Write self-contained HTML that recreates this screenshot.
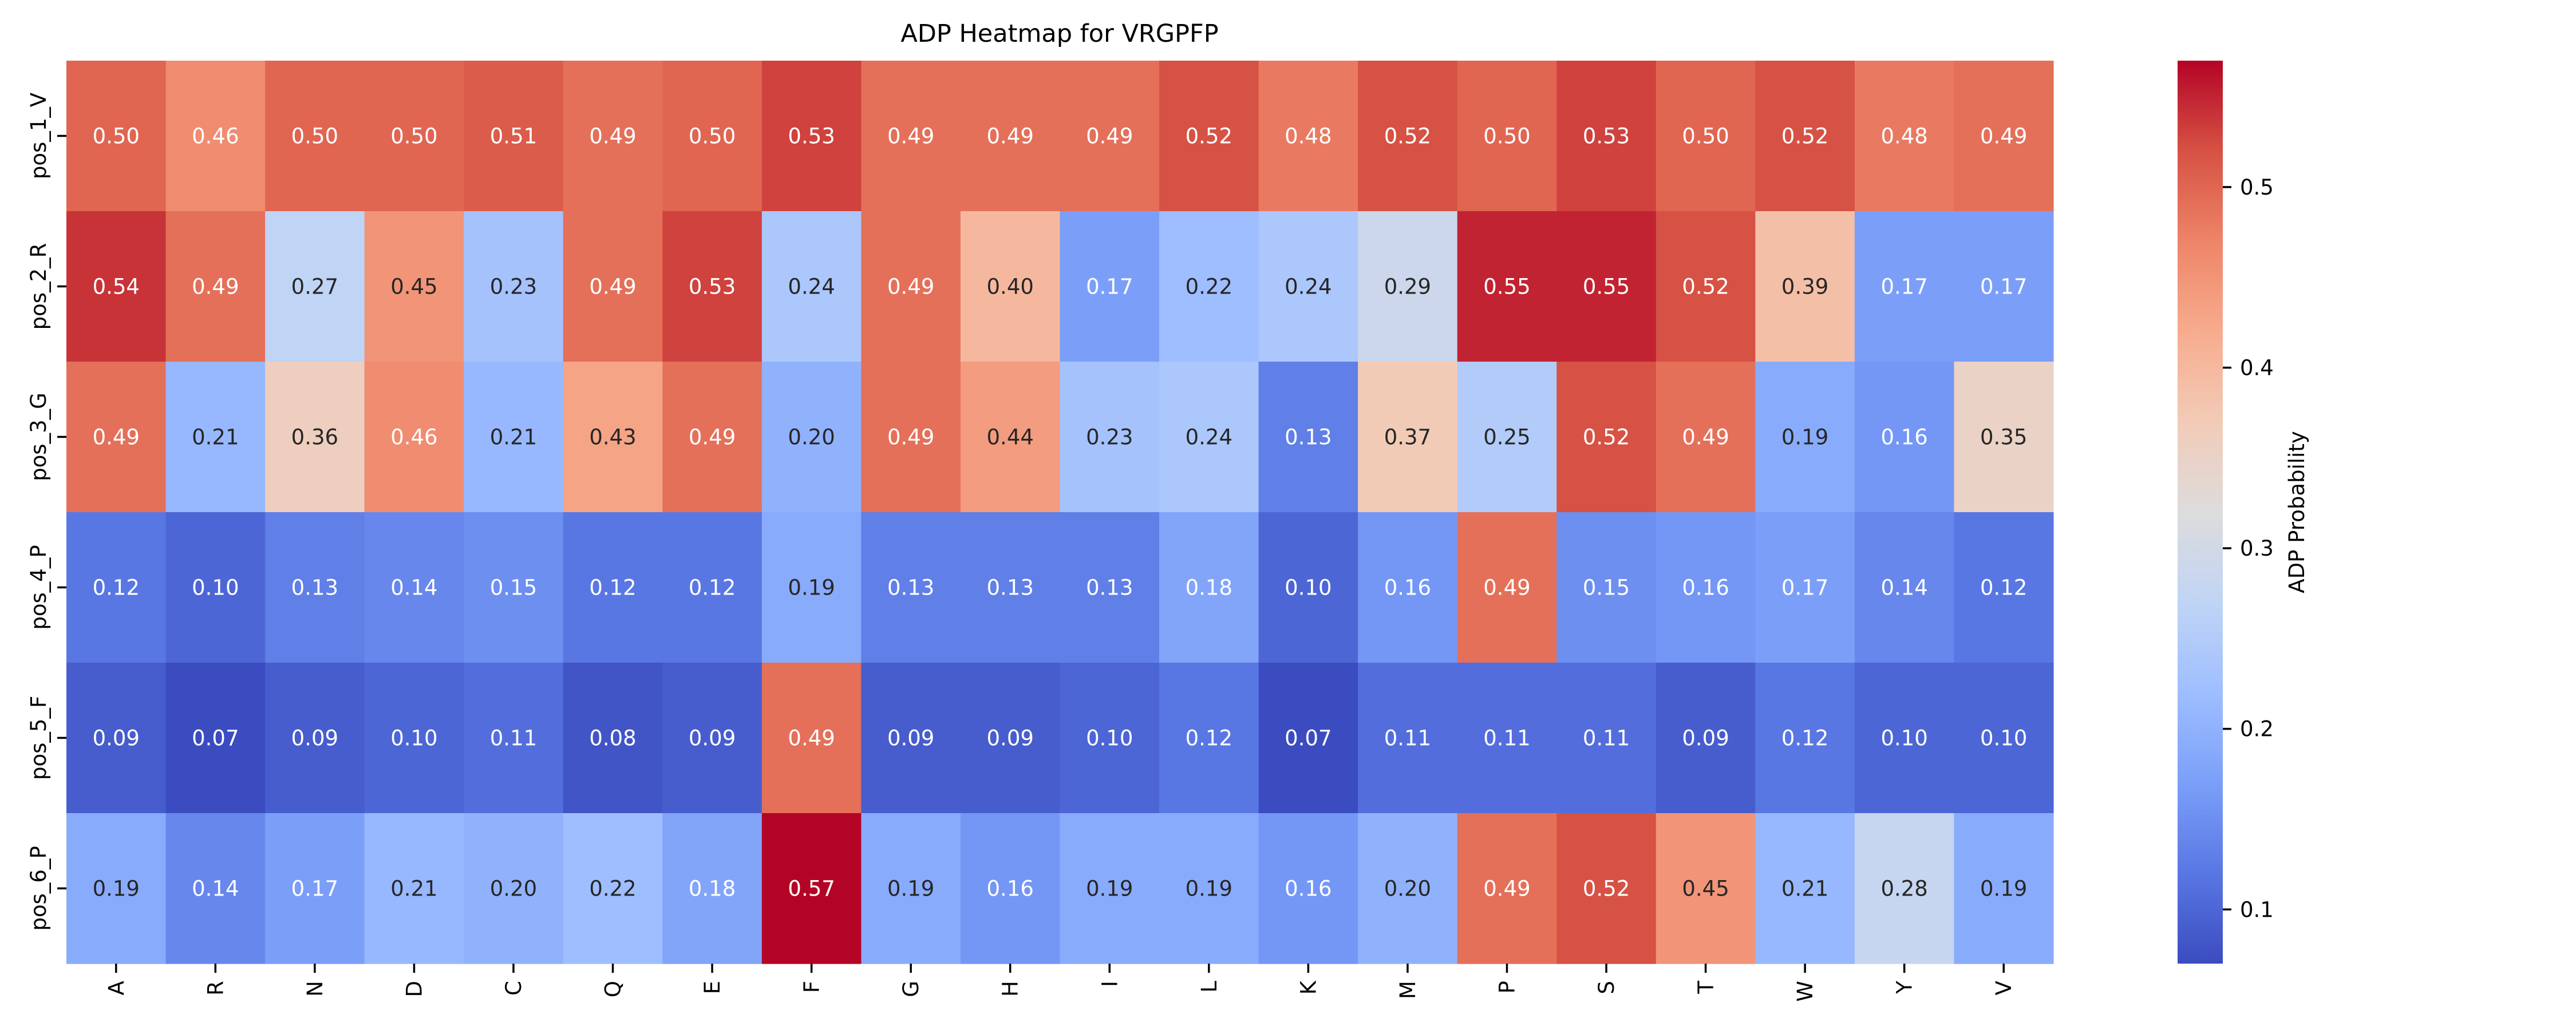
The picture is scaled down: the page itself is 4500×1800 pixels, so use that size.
<!DOCTYPE html>
<html><head><meta charset="utf-8"><style>
html,body{margin:0;padding:0;background:#fff;}
svg{display:block;font-family:"DejaVu Sans","Liberation Sans",sans-serif;}
</style></head><body>
<svg id="chart" width="4500" height="1800" viewBox="0 0 4500 1800" xmlns="http://www.w3.org/2000/svg">
<defs><linearGradient id="cbgrad" x1="0" y1="1" x2="0" y2="0"></linearGradient></defs>
<text x="1851" y="73" font-size="43" text-anchor="middle" fill="#000">ADP Heatmap for VRGPFP</text>
<g id="cells"></g><g id="xaxis"></g><g id="yaxis"></g><g id="cbar"></g>
<text transform="translate(4025,895) rotate(-90)" font-size="37" text-anchor="middle" fill="#000">ADP Probability</text>
</svg>
<script>
const columns = ["A","R","N","D","C","Q","E","F","G","H","I","L","K","M","P","S","T","W","Y","V"];
const rows = ["pos_1_V","pos_2_R","pos_3_G","pos_4_P","pos_5_F","pos_6_P"];
const row1 = [0.50,0.46,0.50,0.50,0.51,0.49,0.50,0.53,0.49,0.49,0.49,0.52,0.48,0.52,0.50,0.53,0.50,0.52,0.48,0.49];
const row2 = [0.54,0.49,0.27,0.45,0.23,0.49,0.53,0.24,0.49,0.40,0.17,0.22,0.24,0.29,0.55,0.55,0.52,0.39,0.17,0.17];
const row3 = [0.49,0.21,0.36,0.46,0.21,0.43,0.49,0.20,0.49,0.44,0.23,0.24,0.13,0.37,0.25,0.52,0.49,0.19,0.16,0.35];
const row4 = [0.12,0.10,0.13,0.14,0.15,0.12,0.12,0.19,0.13,0.13,0.13,0.18,0.10,0.16,0.49,0.15,0.16,0.17,0.14,0.12];
const row5 = [0.09,0.07,0.09,0.10,0.11,0.08,0.09,0.49,0.09,0.09,0.10,0.12,0.07,0.11,0.11,0.11,0.09,0.12,0.10,0.10];
const row6 = [0.19,0.14,0.17,0.21,0.20,0.22,0.18,0.57,0.19,0.16,0.19,0.19,0.16,0.20,0.49,0.52,0.45,0.21,0.28,0.19];
const colorbarTicks = [0.1,0.2,0.3,0.4,0.5];
const vmin = 0.070, vmax = 0.570;

const matrix = [row1,row2,row3,row4,row5,row6];
const NS="http://www.w3.org/2000/svg";
const L=116,R=3587,T=106,B=1684;
const cw=(R-L)/columns.length, rh=(B-T)/rows.length;
const xPos=i=>L+i*cw, yPos=j=>T+j*rh;
const CBX=3804,CBW=79;
const cbY=v=>B-(v-vmin)/(vmax-vmin)*(B-T);
const stops=["#3b4cc0","#5977e3","#7b9ff9","#9ebeff","#c0d4f5","#dddcdc","#f2cbb7","#f7ac8e","#ee8468","#d65244","#b40426"];
const hex=h=>[1,3,5].map(k=>parseInt(h.substr(k,2),16));
function cmap(v){let t=Math.max(0,Math.min(1,(v-vmin)/(vmax-vmin)))*10;let i=Math.min(9,Math.floor(t));let f=t-i;
 const a=hex(stops[i]),b=hex(stops[i+1]);return a.map((c,k)=>Math.round(c+(b[k]-c)*f));}
function lum(c){const l=c.map(x=>{x/=255;return x<=0.03928?x/12.92:Math.pow((x+0.055)/1.055,2.4)});return 0.2126*l[0]+0.7152*l[1]+0.0722*l[2];}
function mk(tag,attrs,parent){const e=document.createElementNS(NS,tag);for(const k in attrs)e.setAttribute(k,attrs[k]);parent.appendChild(e);return e;}

const gC=document.getElementById('cells');
matrix.forEach((row,j)=>row.forEach((v,i)=>{
 const c=cmap(v);
 const r=mk('rect',{x:xPos(i),y:yPos(j),width:cw+0.6,height:rh+0.6,fill:`rgb(${c.join(',')})`},gC);
 
 
 const t=mk('text',{x:xPos(i)+cw/2,y:yPos(j)+rh/2+13,'font-size':37,'text-anchor':'middle',fill:lum(c)<0.408?'#ffffff':'#262626'},gC);
 
 
 t.textContent=v.toFixed(2);
}));
const gX=document.getElementById('xaxis');
columns.forEach((c,i)=>{const x=xPos(i)+cw/2;
 const tk=mk('line',{x1:x,x2:x,y1:B,y2:B+16,stroke:'#000','stroke-width':3.5},gX);
 
 
 const t=mk('text',{transform:`translate(${x+13},${B+30}) rotate(-90)`,'font-size':37,'text-anchor':'end',fill:'#000'},gX);
 
 
 t.textContent=c;});
const gY=document.getElementById('yaxis');
rows.forEach((r,j)=>{const y=yPos(j)+rh/2;
 const tk=mk('line',{x1:L-16,x2:L,y1:y,y2:y,stroke:'#000','stroke-width':3.5},gY);
 
 
 const t=mk('text',{transform:`translate(${L-36},${y}) rotate(-90)`,'font-size':37,'text-anchor':'middle',fill:'#000'},gY);
 
 
 t.textContent=r;});
const grad=document.getElementById('cbgrad');
stops.forEach((s,k)=>mk('stop',{offset:(k/10),'stop-color':s},grad));
const gB=document.getElementById('cbar');
const cb=mk('rect',{x:CBX,y:T,width:CBW,height:B-T,fill:'url(#cbgrad)'},gB);


colorbarTicks.forEach(v=>{const y=cbY(v);
 const tk=mk('line',{x1:CBX+CBW,x2:CBX+CBW+15,y1:y,y2:y,stroke:'#000','stroke-width':3.5},gB);
 
 
 const t=mk('text',{x:CBX+CBW+30,y:y+13,'font-size':37,fill:'#000'},gB);
 
 
 t.textContent=v.toFixed(1);});
</script>
</body></html>
